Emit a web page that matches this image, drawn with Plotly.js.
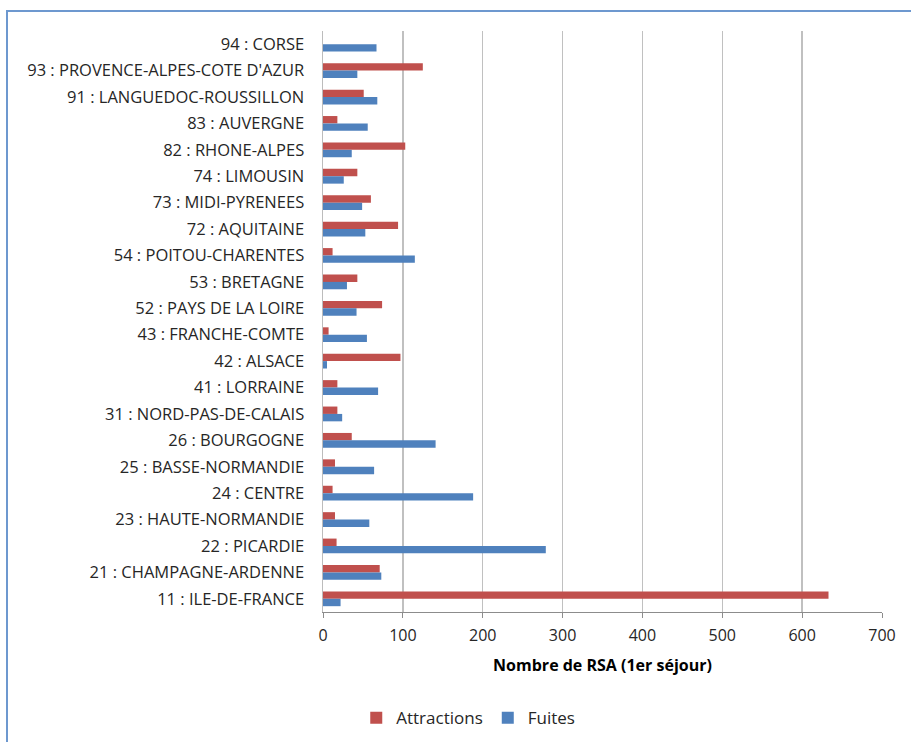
<!DOCTYPE html>
<html>
<head>
<meta charset="utf-8">
<script src="https://cdn.plot.ly/plotly-3.0.1.min.js"></script>
<style>
  html, body { margin: 0; padding: 0; background: #fff; overflow: hidden; }
  #wrap { position: relative; width: 911px; height: 742px; }
  #frame { position: absolute; left: 6px; top: 10px; width: 1200px; height: 1200px;
           border-left: 2px solid #6d98cf; border-top: 2px solid #6d98cf; pointer-events: none; z-index: 5; }
  #chart { position: absolute; left: 0; top: 0; width: 911px; height: 742px; }
</style>
</head>
<body>
<div id="wrap">
  <div id="chart"></div>
  <div id="frame"></div>
</div>
<script>
// Categories listed top to bottom as in the reference
const regions = [
  "94 : CORSE",
  "93 : PROVENCE-ALPES-COTE D'AZUR",
  "91 : LANGUEDOC-ROUSSILLON",
  "83 : AUVERGNE",
  "82 : RHONE-ALPES",
  "74 : LIMOUSIN",
  "73 : MIDI-PYRENEES",
  "72 : AQUITAINE",
  "54 : POITOU-CHARENTES",
  "53 : BRETAGNE",
  "52 : PAYS DE LA LOIRE",
  "43 : FRANCHE-COMTE",
  "42 : ALSACE",
  "41 : LORRAINE",
  "31 : NORD-PAS-DE-CALAIS",
  "26 : BOURGOGNE",
  "25 : BASSE-NORMANDIE",
  "24 : CENTRE",
  "23 : HAUTE-NORMANDIE",
  "22 : PICARDIE",
  "21 : CHAMPAGNE-ARDENNE",
  "11 : ILE-DE-FRANCE"
];
const attractions = [0, 125, 51, 18, 103, 43, 60, 94, 12, 43, 74, 7, 97, 18, 18, 36, 15, 12, 15, 17, 71, 633];
const fuites      = [67, 43, 68, 56, 36, 26, 49, 53, 115, 30, 42, 55, 5, 69, 24, 141, 64, 188, 58, 279, 73, 22];
const xTicks = [0, 100, 200, 300, 400, 500, 600, 700];

const font = "'Open Sans', Calibri, 'Liberation Sans', sans-serif";

const traces = [
  { type: 'bar', orientation: 'h', name: 'Attractions', y: regions, x: attractions,
    marker: { color: '#c0504d', line: { width: 0 } } },
  { type: 'bar', orientation: 'h', name: 'Fuites', y: regions, x: fuites,
    marker: { color: '#4f81bd', line: { width: 0 } } }
];

const layout = {
  width: 911, height: 742,
  margin: { l: 323, r: 29, t: 31, b: 130, autoexpand: false },
  paper_bgcolor: '#ffffff', plot_bgcolor: '#ffffff',
  barmode: 'group', bargap: 0.44, bargroupgap: 0,
  font: { family: font, size: 16, color: '#262626' },
  showlegend: true,
  legend: { orientation: 'h', xref: 'container', yref: 'container',
            x: 0.514, xanchor: 'center', y: 0.032, yanchor: 'middle',
            font: { family: font, size: 17, color: '#262626' }, itemwidth: 30, tracegroupgap: 0 },
  xaxis: {
    range: [0, 700], tickvals: xTicks, ticktext: xTicks.map(String),
    automargin: false,
    showgrid: true, gridcolor: '#c0c0c0', gridwidth: 1.5,
    zeroline: false,
    showline: true, linecolor: '#8c8c8c', linewidth: 1,
    ticks: 'outside', ticklen: 5, tickcolor: '#8c8c8c',
    ticklabelstandoff: 4,
    tickfont: { family: font, size: 16, color: '#262626' },
    title: { text: '<b>Nombre de RSA (1er séjour)</b>', font: { family: font, size: 16, color: '#000' }, standoff: 14 },
    fixedrange: true
  },
  yaxis: {
    type: 'category', autorange: 'reversed',
    automargin: false,
    showgrid: false, zeroline: false,
    showline: true, linecolor: '#bcbcbc', linewidth: 1.5,
    ticks: '', ticklabelstandoff: 14,
    tickfont: { family: font, size: 16.5, color: '#262626' },
    fixedrange: true
  }
};

Plotly.newPlot('chart', traces, layout, { displayModeBar: false, staticPlot: true });
</script>
</body>
</html>
